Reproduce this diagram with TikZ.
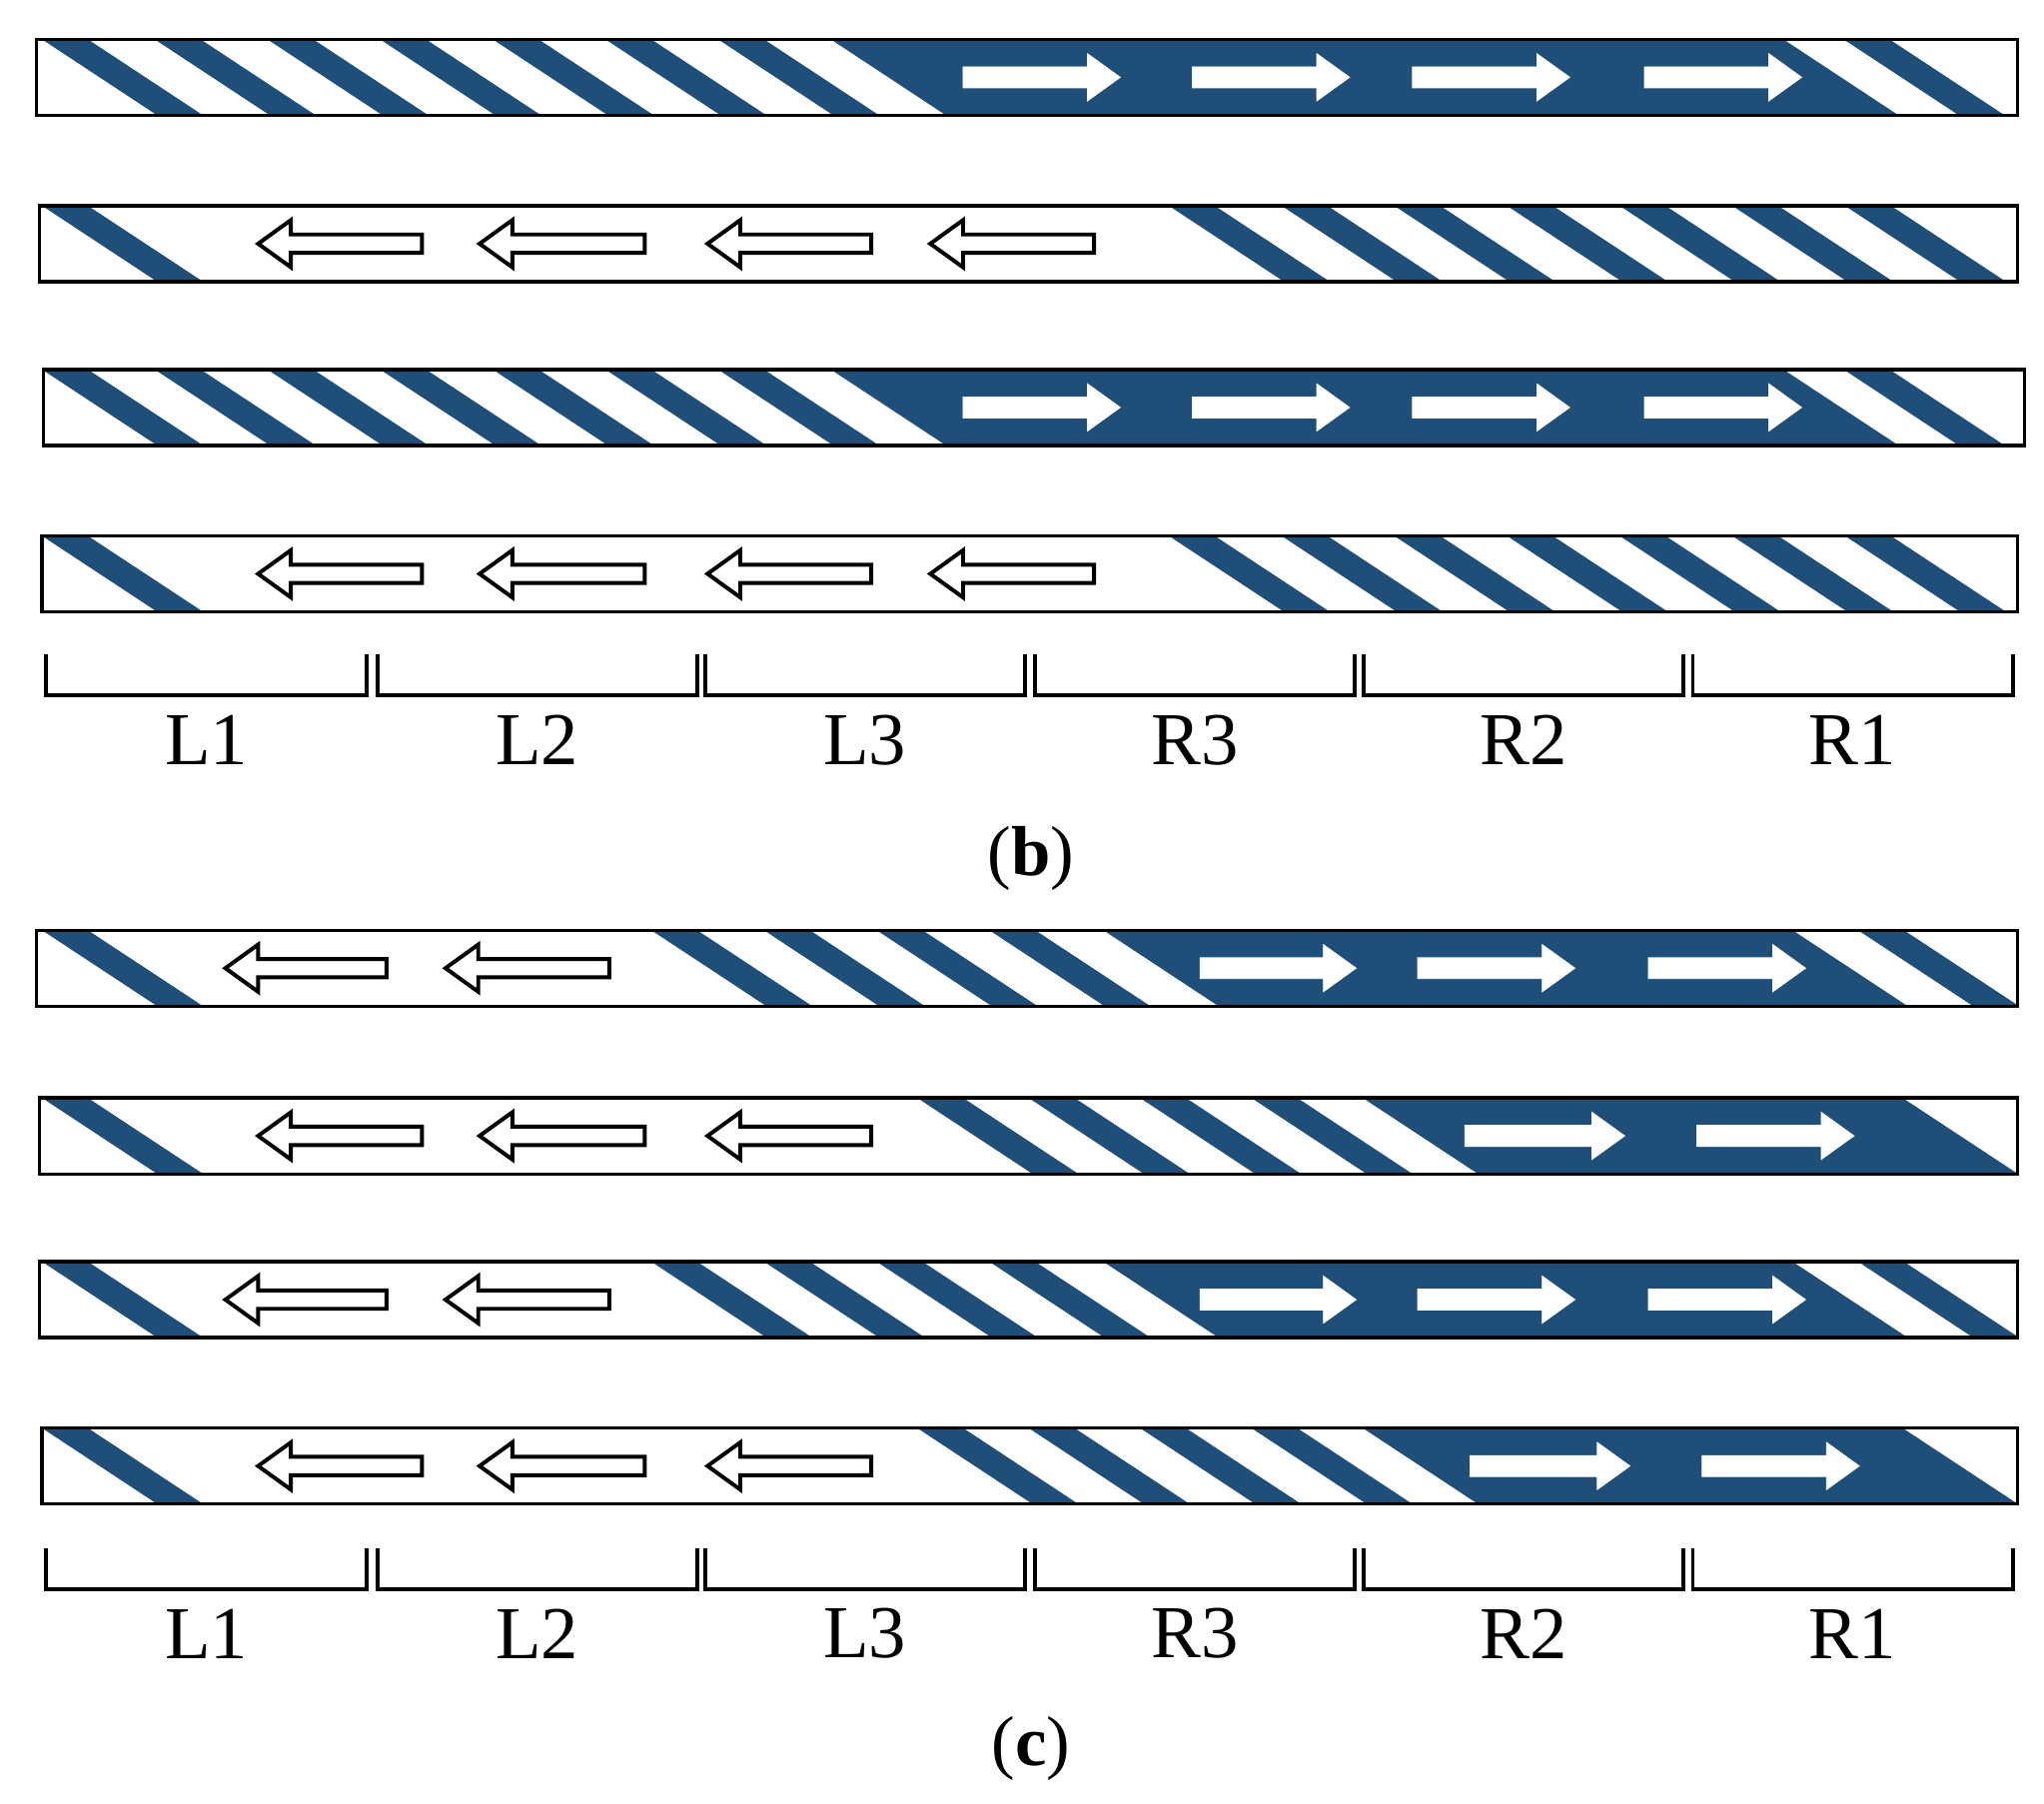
\documentclass[tikz,border=0pt]{standalone}
\usepackage{fontspec}
\setmainfont{Liberation Serif}
\definecolor{dblue}{RGB}{31,78,121}
\begin{document}
\begin{tikzpicture}[x=1pt,y=-1pt,
  barbox/.style={draw=black,line width=2.5pt},
  lab/.style={font=\fontsize{57}{57}\selectfont,anchor=center},
  captxt/.style={font=\fontsize{54}{54}\selectfont,anchor=center},
  brk/.style={line width=3pt,line cap=rect}]
\useasboundingbox (0,0) rectangle (1560,1377);
\fill[white] (0,0) rectangle (1560,1377);
\newcommand{\stp}[1]{\fill[dblue] (#1,0)--(#1+35,0)--(#1+123,58)--(#1+88,58)--cycle;}
\newcommand{\drk}[2]{\fill[dblue] (#1,0)--(#2,0)--(#2+88,58)--(#1+88,58)--cycle;}
\newcommand{\rarr}[2]{\draw[white,fill=white,line width=0.6pt] (#1,21)--(#2-25,21)--(#2-25,11)--(#2,29)--(#2-25,47)--(#2-25,37)--(#1,37)--cycle;}
\newcommand{\larr}[2]{\draw[black,fill=white,line width=3pt,line join=miter] (#1,29)--(#1+25,11)--(#1+25,22)--(#2,22)--(#2,36)--(#1+25,36)--(#1+25,47)--cycle;}
\newcommand{\bstripes}{\stp{32}\stp{118}\stp{204}\stp{290}\stp{376}\stp{462}\stp{548}}
\newcommand{\rowA}[3]{%
 \begin{scope}[shift={(0,#1)}]
  \begin{scope}\clip (#2,0) rectangle (#3,58);
   \bstripes \drk{634}{1361}\stp{1407}
  \end{scope}
  \rarr{735}{855}\rarr{910}{1030}\rarr{1078}{1198}\rarr{1255}{1375}
  \draw[barbox] (#2,0) rectangle (#3,58);
 \end{scope}}
\newcommand{\rowB}[3]{%
 \begin{scope}[shift={(0,#1)}]
  \begin{scope}\clip (#2,0) rectangle (#3,58);
   \stp{32}\stp{892}\stp{978}\stp{1064}\stp{1150}\stp{1236}\stp{1322}\stp{1408}
  \end{scope}
  \larr{197}{322}\larr{366}{492}\larr{540}{665}\larr{710}{835}
  \draw[barbox] (#2,0) rectangle (#3,58);
 \end{scope}}
\newcommand{\rowC}[3]{%
 \begin{scope}[shift={(0,#1)}]
  \begin{scope}\clip (#2,0) rectangle (#3,58);
   \stp{32}\stp{497}\stp{583}\stp{669}\stp{755}\drk{842}{1368}\stp{1418}
  \end{scope}
  \larr{172}{295}\larr{340}{465}
  \rarr{916}{1035}\rarr{1082}{1202}\rarr{1258}{1378}
  \draw[barbox] (#2,0) rectangle (#3,58);
 \end{scope}}
\newcommand{\rowD}[4]{%
 \begin{scope}[shift={(0,#1)}]
  \begin{scope}\clip (#2,0) rectangle (#3,58);
   \stp{32}\stp{700}\stp{785}\stp{870}\stp{955}\drk{1040}{1452}
  \end{scope}
  \larr{197}{322}\larr{366}{492}\larr{540}{665}
  \rarr{1118+#4}{1240+#4}\rarr{1295+#4}{1415+#4}
  \draw[barbox] (#2,0) rectangle (#3,58);
 \end{scope}}
\rowA{30}{28}{1540}
\rowB{157}{30}{1540}
\rowA{282}{33}{1545}
\rowB{409}{32}{1540}
\rowC{710}{28}{1540}
\rowD{838}{30}{1540}{0}
\rowC{963}{30}{1540}
\rowD{1090}{32}{1540}{4}
\newcommand{\brackets}[2]{%
 \foreach \a/\b/\t [count=\i] in {35/280/L1,288/532/L2,538/782/L3,790/1034/R3,1041/1285/R2,1292/1536/R1}{
  \draw[brk] (\a,#1) coordinate (s#2\i a) -- (\a,#1+30) -- (\b,#1+30) -- (\b,#1) coordinate (s#2\i b);
  \node[lab] (l#2\i) at ({(\a+\b)/2},#1+64) {\t};
 }}
\brackets{501}{b}
\brackets{1183}{c}
\node[captxt] (capb) at (787,655) {(\textbf{b})};
\node[captxt] (capc) at (787,1335) {(\textbf{c})};
\end{tikzpicture}
\end{document}
